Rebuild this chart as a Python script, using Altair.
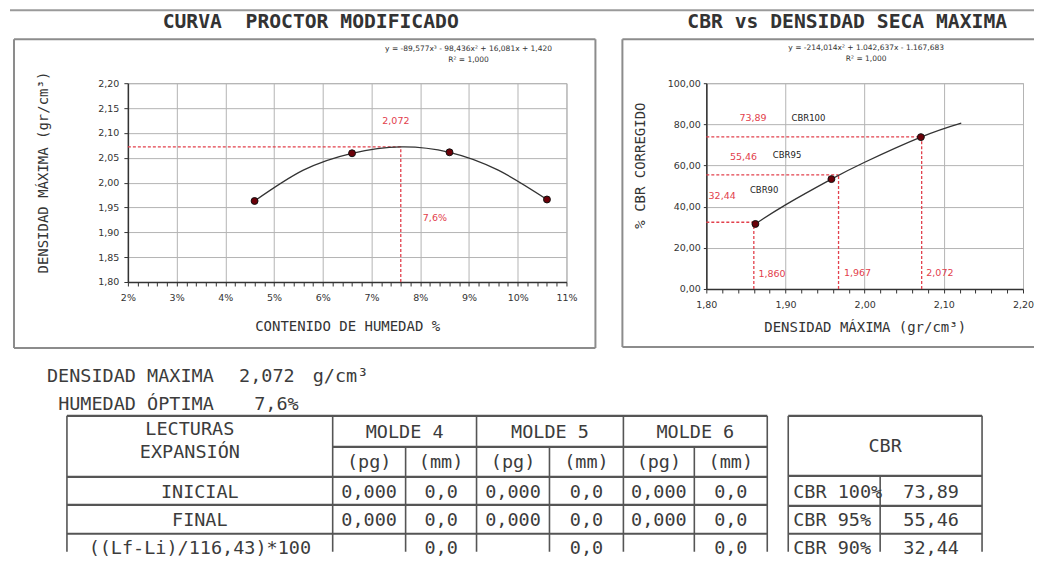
import altair as alt
import pandas as pd

# ---------------- values ----------------
# Proctor (left chart)
humedad = [4.6, 6.6, 8.6, 10.6]
densidad = [1.963, 2.059, 2.061, 1.966]
curva_humedad = [4.6, 5.6, 6.6, 7.6, 8.6, 9.6, 10.6]
curva_densidad = [1.963, 2.025, 2.059, 2.072, 2.061, 2.025, 1.966]
densidad_maxima = 2.072
humedad_optima = 7.6
eq_proctor = ["y = -89,577x³ - 98,436x² + 16,081x + 1,420", "R² = 1,000"]

# CBR (right chart)
cbr_densidad = [1.862, 1.958, 2.071]
cbr_valor = [31.6, 53.4, 73.8]
cbr_curva_dens = [1.862, 1.900, 1.958, 2.000, 2.071, 2.122]
cbr_curva_valor = [31.6, 40.9, 53.4, 61.6, 73.8, 80.6]
cbr_nombres = ["CBR90", "CBR95", "CBR100"]
cbr_ref_dens = [1.860, 1.967, 2.072]
cbr_ref_valor = [32.44, 55.46, 73.89]
eq_cbr = ["y = -214,014x² + 1.042,637x - 1.167,683", "R² = 1,000"]

# Texts and tables
titulo_izq = "CURVA\u00a0\u00a0PROCTOR MODIFICADO"
titulo_der = "CBR vs DENSIDAD SECA MAXIMA"
resumen_etiquetas = ["DENSIDAD MAXIMA", "HUMEDAD ÓPTIMA"]
resumen_valores = ["2,072", "7,6%"]
resumen_unidad = "g/cm³"
lecturas_header = ["LECTURAS", "EXPANSIÓN"]
moldes = ["MOLDE 4", "MOLDE 5", "MOLDE 6"]
unidades = ["(pg)", "(mm)"]
filas = ["INICIAL", "FINAL", "((Lf-Li)/116,43)*100"]
lect_inicial = ["0,000", "0,0", "0,000", "0,0", "0,000", "0,0"]
lect_final = ["0,000", "0,0", "0,000", "0,0", "0,000", "0,0"]
lect_expansion = ["", "0,0", "", "0,0", "", "0,0"]
cbr_tabla_titulo = "CBR"
cbr_tabla_etiquetas = ["CBR 100%", "CBR 95%", "CBR 90%"]
cbr_tabla_valores = ["73,89", "55,46", "32,44"]


def coma(v, d):
    return f"{v:.{d}f}".replace(".", ",")


# ---------------- layout (page pixel coordinates) ----------------
T_COLS = [66, 332, 405, 476, 549, 623, 694, 767]
T_ROWS = [415, 446, 476, 504, 533]
C_COLS = [788, 880, 982]
C_ROWS = [415, 475, 505, 533]
BOTTOM = 551
ROW_Y = [491, 519, 547]

RED = "#e2404c"
MONO = "DejaVu Sans Mono"
SANS = "DejaVu Sans"


def cx(f="x"):
    return alt.X(f"{f}:Q", scale=alt.Scale(domain=[127, 566], nice=False, zero=False), axis=None)


def cy(f="y"):
    return alt.Y(f"{f}:Q", scale=alt.Scale(domain=[82, 281], nice=False, zero=False, reverse=True), axis=None)


def rules(rows, color, width):
    df = pd.DataFrame(rows, columns=["x", "y", "x2", "y2"])
    return alt.Chart(df).mark_rule(color=color, strokeWidth=width).encode(
        x=cx(), y=cy(), x2="x2:Q", y2="y2:Q")


def texts(rows, font, size, align, color, weight="normal"):
    df = pd.DataFrame(rows, columns=["x", "y", "t"])
    return alt.Chart(df).mark_text(font=font, fontSize=size, align=align, baseline="middle",
                                   color=color, fontWeight=weight).encode(
        x=cx(), y=cy(), text="t:N")


# decoration lines
top_line = rules([(9, 9, 1034, 9)], "#9a9a9a", 2)
frames = rules([
    (13, 38, 595, 38), (595, 38, 595, 347), (13, 347, 595, 347), (13, 38, 13, 347),
    (622, 38, 1034, 38), (622, 38, 622, 346), (622, 346, 1034, 346),
], "#8c8c8c", 2)

# table lines
hl = [(T_COLS[0], T_ROWS[0], T_COLS[-1], T_ROWS[0]),
      (T_COLS[1], T_ROWS[1], T_COLS[-1], T_ROWS[1])]
hl += [(T_COLS[0], r, T_COLS[-1], r) for r in T_ROWS[2:]]
hl += [(C_COLS[0], r, C_COLS[-1], r) for r in C_ROWS]
vl = [(c, T_ROWS[0], c, BOTTOM) for c in [T_COLS[0], T_COLS[1], T_COLS[3], T_COLS[5], T_COLS[7]]]
vl += [(c, T_ROWS[1], c, BOTTOM) for c in [T_COLS[2], T_COLS[4], T_COLS[6]]]
vl += [(C_COLS[0], C_ROWS[0], C_COLS[0], BOTTOM), (C_COLS[2], C_ROWS[0], C_COLS[2], BOTTOM),
       (C_COLS[1], C_ROWS[1], C_COLS[1], BOTTOM)]
table_h = rules(hl, "#555555", 2.2)
table_v = rules(vl, "#555555", 1.6)

# text groups
titles = texts([(310, 21, titulo_izq), (847, 21, titulo_der)], MONO, 19.7, "center", "#333", "bold")
eqs = texts([(468, 48, eq_proctor[0]), (468, 59, eq_proctor[1]),
             (866, 47, eq_cbr[0]), (866, 58, eq_cbr[1])], SANS, 7.5, "center", "#333")
res_r = texts([(213, 375, resumen_etiquetas[0]), (294, 375, resumen_valores[0]),
               (213, 403, resumen_etiquetas[1]), (298, 403, resumen_valores[1])],
              MONO, 18.5, "right", "#3c3c3c")
res_l = texts([(312, 375, resumen_unidad)], MONO, 18.5, "left", "#3c3c3c")

sub_c = [(T_COLS[i] + T_COLS[i + 1]) / 2 for i in range(1, 7)]
mold_c = [(T_COLS[1] + T_COLS[3]) / 2, (T_COLS[3] + T_COLS[5]) / 2, (T_COLS[5] + T_COLS[7]) / 2]
tc = [(189, 428, lecturas_header[0]), (189, 451, lecturas_header[1])]
tc += [(mold_c[i], 431, moldes[i]) for i in range(3)]
tc += [(sub_c[i], 461, unidades[i % 2]) for i in range(6)]
tc += [(199, ROW_Y[i], filas[i]) for i in range(3)]
for r, vals in enumerate([lect_inicial, lect_final, lect_expansion]):
    tc += [(sub_c[i], ROW_Y[r], vals[i]) for i in range(6) if vals[i]]
tc += [(885, 445, cbr_tabla_titulo)]
tc += [((C_COLS[1] + C_COLS[2]) / 2, ROW_Y[i], cbr_tabla_valores[i]) for i in range(3)]
table_c = texts(tc, MONO, 18.5, "center", "#3c3c3c")
table_l = texts([(793, ROW_Y[i], cbr_tabla_etiquetas[i]) for i in range(3)], MONO, 18.5, "left", "#3c3c3c")

canvas = alt.layer(top_line, frames, table_h, table_v, titles, eqs, res_r, res_l, table_c, table_l)

# ---------------- left chart: Proctor ----------------
is_int = "abs(datum.value - round(datum.value)) < 0.001"
sxL = alt.Scale(domain=[2, 11], nice=False, zero=False)
syL = alt.Scale(domain=[1.8, 2.2], nice=False, zero=False)
x_axis_L = alt.Axis(
    values=[round(2 + 0.2 * i, 1) for i in range(46)],
    labelExpr=f"{is_int} ? format(datum.value, 'd') + '%' : ''",
    gridOpacity={"condition": {"test": is_int, "value": 1}, "value": 0},
    labelOverlap=False, labelFlush=False, labelPadding=7,
    title="CONTENIDO DE HUMEDAD %", titleY=45, titleBaseline="middle")
y_axis_L = alt.Axis(
    values=[round(1.8 + 0.05 * i, 2) for i in range(9)],
    labelExpr="replace(format(datum.value, '.2f'), '.', ',')",
    labelOverlap=False, labelFlush=False, labelPadding=5,
    title="DENSIDAD MÁXIMA (gr/cm³)", titleX=-84, titleY=89,
    titleBaseline="middle", titleAlign="center")

XL = alt.X("h:Q", scale=sxL, axis=x_axis_L)
YL = alt.Y("d:Q", scale=syL, axis=y_axis_L)

df_curve_L = pd.DataFrame({"h": curva_humedad, "d": curva_densidad})
df_pts_L = pd.DataFrame({"h": humedad, "d": densidad})
df_ref_L = pd.DataFrame({"h": [2, humedad_optima], "h2": [humedad_optima, humedad_optima],
                         "d": [densidad_maxima, 1.8], "d2": [densidad_maxima, densidad_maxima]})
df_lab_L = pd.DataFrame({"h": [7.5, 8.3], "d": [2.124, 1.928],
                         "t": [coma(densidad_maxima, 3), coma(humedad_optima, 1) + "%"]})

ref_L = alt.Chart(df_ref_L).mark_rule(color=RED, strokeWidth=1.3, strokeDash=[3, 2]).encode(
    x=XL, y=YL, x2="h2:Q", y2="d2:Q")
curve_L = alt.Chart(df_curve_L).mark_line(color="#333", strokeWidth=1.3, interpolate="natural").encode(
    x=XL, y=YL)
pts_L = alt.Chart(df_pts_L).mark_point(filled=True, size=48, fill="#6b0008", stroke="#111",
                                       strokeWidth=1, opacity=1).encode(x=XL, y=YL)
lab_L = alt.Chart(df_lab_L).mark_text(font=SANS, fontSize=9.5, color=RED).encode(
    x=XL, y=YL, text="t:N")

plot_L = alt.layer(ref_L, curve_L, pts_L, lab_L)
left = alt.layer(plot_L, canvas).resolve_scale(x="independent", y="independent").properties(
    width=439, height=199)

# ---------------- right chart: CBR ----------------
is_tenth = "abs(datum.value * 10 - round(datum.value * 10)) < 0.001"
sxR = alt.Scale(domain=[1.8, 2.2], nice=False, zero=False)
syR = alt.Scale(domain=[0, 100], nice=False, zero=False)
x_axis_R = alt.Axis(
    values=[round(1.8 + 0.02 * i, 2) for i in range(21)],
    labelExpr=f"{is_tenth} ? replace(format(datum.value, '.2f'), '.', ',') : ''",
    gridOpacity={"condition": {"test": is_tenth, "value": 1}, "value": 0},
    labelOverlap=False, labelFlush=False, labelPadding=7,
    title="DENSIDAD MÁXIMA (gr/cm³)", titleY=39, titleBaseline="middle")
y_axis_R = alt.Axis(
    values=[0, 20, 40, 60, 80, 100],
    labelExpr="replace(format(datum.value, '.2f'), '.', ',')",
    labelOverlap=False, labelFlush=False, labelPadding=3, tickSize=3,
    title="% CBR CORREGIDO", titleX=-66, titleY=82,
    titleBaseline="middle", titleAlign="center")

XR = alt.X("dens:Q", scale=sxR, axis=x_axis_R)
YR = alt.Y("cbr:Q", scale=syR, axis=y_axis_R)

ref_rows = []
for d, v in zip(cbr_ref_dens, cbr_ref_valor):
    ref_rows.append((1.8, v, d, v))
    ref_rows.append((d, 0, d, v))
df_ref_R = pd.DataFrame(ref_rows, columns=["dens", "cbr", "dens2", "cbr2"])
df_curve_R = pd.DataFrame({"dens": cbr_curva_dens, "cbr": cbr_curva_valor})
df_pts_R = pd.DataFrame({"dens": cbr_densidad, "cbr": cbr_valor})
df_red_R = pd.DataFrame({
    "dens": [1.820, 1.847, 1.859, 1.883, 1.991, 2.095],
    "cbr": [45.0, 64.1, 83.0, 7.3, 7.8, 7.8],
    "t": [coma(v, 2) for v in cbr_ref_valor] + [coma(d, 3) for d in cbr_ref_dens]})
df_name_R = pd.DataFrame({"dens": [1.873, 1.902, 1.929], "cbr": [48.0, 65.0, 83.0], "t": cbr_nombres})

ref_R = alt.Chart(df_ref_R).mark_rule(color=RED, strokeWidth=1.3, strokeDash=[3, 2]).encode(
    x=XR, y=YR, x2="dens2:Q", y2="cbr2:Q")
curve_R = alt.Chart(df_curve_R).mark_line(color="#333", strokeWidth=1.3, interpolate="natural").encode(
    x=XR, y=YR)
pts_R = alt.Chart(df_pts_R).mark_point(filled=True, size=48, fill="#6b0008", stroke="#111",
                                       strokeWidth=1, opacity=1).encode(x=XR, y=YR)
red_R = alt.Chart(df_red_R).mark_text(font=SANS, fontSize=9.5, color=RED).encode(
    x=XR, y=YR, text="t:N")
name_R = alt.Chart(df_name_R).mark_text(font=SANS, fontSize=8.5, color="#222").encode(
    x=XR, y=YR, text="t:N")

right = alt.layer(ref_R, curve_R, pts_R, red_R, name_R).properties(width=317, height=206)

chart = alt.hconcat(left, right, spacing=140, bounds="flush").properties(
    padding=0, background="white"
).configure_view(stroke="#b4b4b4").configure_axis(
    labelFont=SANS, labelFontSize=9.5, labelColor="#333",
    titleFont=MONO, titleFontSize=14, titleFontWeight="normal", titleColor="#333",
    domainColor="#333", domainWidth=1.5, tickColor="#333", tickSize=4, tickWidth=1,
    gridColor="#b4b4b4", gridWidth=1)

chart.save("out.html", embed_options={"renderer": "svg", "actions": False})
